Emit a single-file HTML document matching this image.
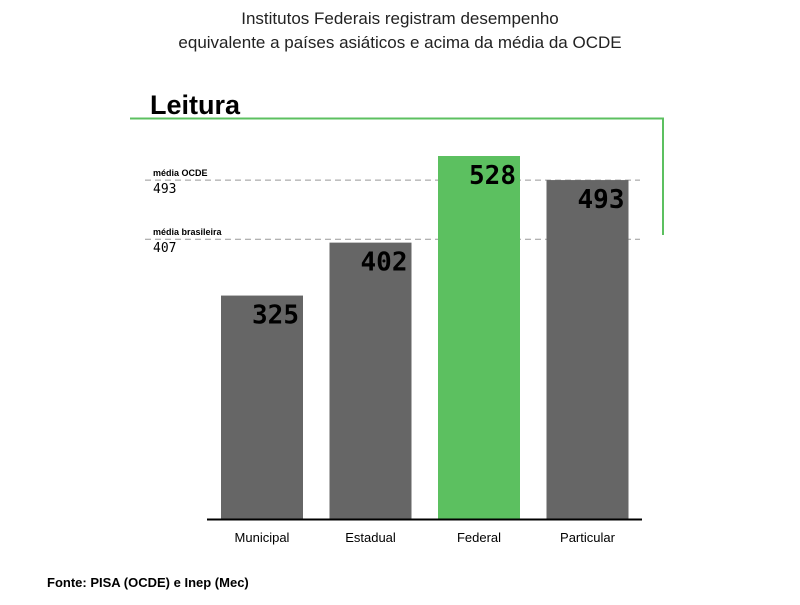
<!DOCTYPE html>
<html><head><meta charset="utf-8"><style>
body{margin:0;background:#fff;font-family:"Liberation Sans",sans-serif}
</style></head><body>
<svg width="800" height="600" xmlns="http://www.w3.org/2000/svg">
<text x="400" y="24" text-anchor="middle" font-size="17" fill="#222">Institutos Federais registram desempenho</text>
<text x="400" y="48" text-anchor="middle" font-size="17" fill="#222">equivalente a países asiáticos e acima da média da OCDE</text>
<text x="150" y="114" font-size="27" font-weight="bold" fill="#000">Leitura</text>
<polyline points="130,118.5 663,118.5 663,235" fill="none" stroke="#5cc060" stroke-width="2"/>
<g id="refs"></g>
<g id="bars"></g>
<line x1="207" y1="519.5" x2="642" y2="519.5" stroke="#000" stroke-width="2"/>
<text x="47" y="587" font-size="13" font-weight="bold" fill="#000">Fonte: PISA (OCDE) e Inep (Mec)</text>
</svg>
<script>
const categories=["Municipal","Estadual","Federal","Particular"];
const values=[325,402,528,493];
const refNames=["média OCDE","média brasileira"];
const refValues=[493,407];
const NS="http://www.w3.org/2000/svg";
const y=v=>519-v*0.6875;
const xStart=221, step=108.5, bw=82;
function mk(t,a,p){const e=document.createElementNS(NS,t);for(const k in a)e.setAttribute(k,a[k]);p.appendChild(e);return e;}
const rg=document.getElementById('refs');
refValues.forEach((v,i)=>{
 const l=mk('line',{x1:145,x2:640,y1:y(v),y2:y(v),stroke:'#999','stroke-dasharray':'6,4','stroke-width':1},rg);
 
 
 const n=mk('text',{x:153,y:y(v)-4,'font-size':9,'font-weight':'bold',fill:'#000'},rg);n.textContent=refNames[i];
 
 
 const t=mk('text',{x:153,y:y(v)+13,'font-size':13,fill:'#000','font-family':'DejaVu Sans Mono, monospace'},rg);t.textContent=v;
 
 
});
const bg=document.getElementById('bars');
values.forEach((v,i)=>{
 const x=xStart+i*step;
 const r=mk('rect',{x:x,y:y(v),width:bw,height:519-y(v),fill:categories[i]==="Federal"?'#5cc060':'#666'},bg);
 
 
 const t=mk('text',{x:x+bw-4,y:y(v)+28,'text-anchor':'end','font-size':26,'font-weight':'bold',fill:'#000','font-family':'DejaVu Sans Mono, monospace'},bg);t.textContent=v;
 
 
 const c=mk('text',{x:x+bw/2,y:542,'text-anchor':'middle','font-size':13,fill:'#000'},bg);c.textContent=categories[i];
 
 
});
</script>
</body></html>
